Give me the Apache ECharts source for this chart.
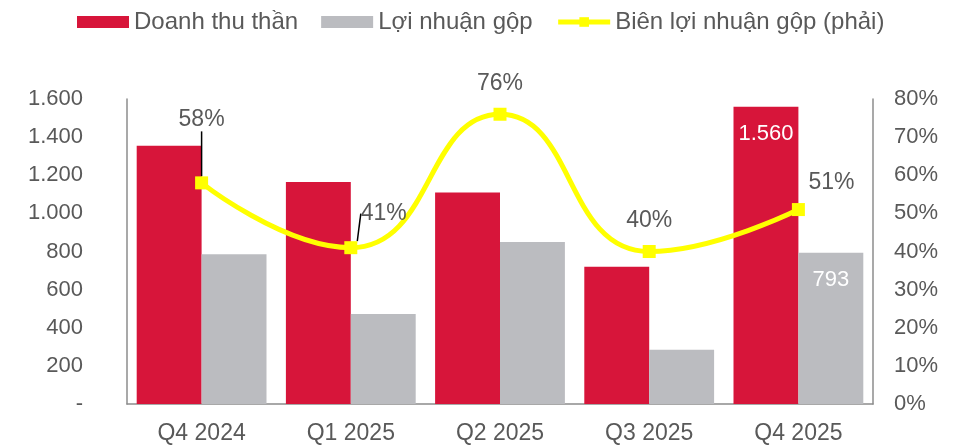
<!DOCTYPE html>
<html>
<head>
<meta charset="utf-8">
<script src="https://cdn.jsdelivr.net/npm/echarts@6/dist/echarts.min.js"></script>
<style>
  html, body { margin: 0; padding: 0; background: #fff; }
  #chart { width: 964px; height: 447px; }
</style>
</head>
<body>
<div id="chart"></div>
<script>
// data
let categories = ['Q4 2024', 'Q1 2025', 'Q2 2025', 'Q3 2025', 'Q4 2025'];
let revenue = [1355, 1165, 1110, 720, 1560];
let grossProfit = [785, 472, 850, 285, 793];
let grossMargin = [58, 41, 76, 40, 51];
let leftTicks = [0, 200, 400, 600, 800, 1000, 1200, 1400, 1600];
let rightTicks = [0, 10, 20, 30, 40, 50, 60, 70, 80];

let txt = '#595959';
let font = 'Liberation Sans, Arial, sans-serif';

let fmtNum = function(v){
    if (v === 0) return '-';
    return String(Math.round(v)).replace(/\B(?=(\d{3})+(?!\d))/g, '.');
};

// label shifts for the margin line (dx, dy from default top label)
let marginShift = [[0, -32], [33, 1], [0, 0], [0, 0], [33, 4]];

let myChart = echarts.init(document.getElementById('chart'));
let option = {
    animation: false,
    textStyle: {fontFamily: font},
    legend: {
        left: 72, top: 5,
        itemWidth: 52, itemHeight: 12, itemGap: 23,
        textStyle: {color: txt, fontSize: 24, fontFamily: font},
        data: [
            {name: 'Doanh thu thần', icon: 'rect'},
            {name: 'Lợi nhuận gộp', icon: 'rect'},
            {name: 'Biên lợi nhuận gộp (phải)', lineStyle: {width: 5}}
        ]
    },
    grid: {left: 127, right: 91, top: 99, bottom: 43},
    xAxis: {
        type: 'category',
        data: categories,
        axisLine: {lineStyle: {color: '#8c8c8c', width: 1.5}},
        axisTick: {show: false},
        axisLabel: {color: txt, fontSize: 23, margin: 18}
    },
    yAxis: [{
        type: 'value',
        min: leftTicks[0], max: leftTicks[leftTicks.length - 1], interval: 200,
        splitLine: {show: false},
        axisLine: {show: true, lineStyle: {color: '#8c8c8c', width: 1.5}},
        axisTick: {show: false},
        axisLabel: {color: txt, fontSize: 22, margin: 44, formatter: fmtNum}
    }, {
        type: 'value',
        min: rightTicks[0], max: rightTicks[rightTicks.length - 1], interval: 10,
        splitLine: {show: false},
        axisLine: {show: true, lineStyle: {color: '#8c8c8c', width: 1.5}},
        axisTick: {show: false},
        axisLabel: {color: txt, fontSize: 22, margin: 21, formatter: '{value}%'}
    }],
    series: [{
        name: 'Doanh thu thần',
        type: 'bar',
        barGap: 0,
        barCategoryGap: '13%',
        itemStyle: {color: '#D7153A'},
        data: revenue.map(function(v, i){
            if (i !== revenue.length - 1) return v;
            return {value: v, label: {show: true, position: 'insideTop', distance: 16,
                color: '#fff', fontSize: 22, formatter: function(p){ return fmtNum(p.value); }}};
        })
    }, {
        name: 'Lợi nhuận gộp',
        type: 'bar',
        itemStyle: {color: '#BBBCC0'},
        data: grossProfit.map(function(v, i){
            if (i !== grossProfit.length - 1) return v;
            return {value: v, label: {show: true, position: 'insideTop', distance: 16,
                color: '#fff', fontSize: 22, formatter: function(p){ return fmtNum(p.value); }}};
        })
    }, {
        name: 'Biên lợi nhuận gộp (phải)',
        type: 'line',
        yAxisIndex: 1,
        smooth: 0.5,
        symbol: 'rect',
        symbolSize: 13,
        lineStyle: {color: '#FFFF00', width: 5},
        itemStyle: {color: '#FFFF00'},
        label: {show: true, position: 'top', distance: 13, color: txt, fontSize: 23,
            formatter: '{c}%'},
        labelLine: {show: false},
        labelLayout: function(p){
            let s = marginShift[p.dataIndex];
            return {dx: s[0], dy: s[1]};
        },
        data: grossMargin.map(function(v, i){
            if (i === 0) return {value: v, labelLine: {show: true, minTurnAngle: 180,
                lineStyle: {color: '#000', width: 1.5}}};
            // extra padding so the guide leaves from under the text
            if (i === 1) return {value: v, label: {padding: [14, 0, 4, 0]},
                labelLine: {show: true, minTurnAngle: 180,
                lineStyle: {color: '#000', width: 1.5}}};
            return v;
        })
    }]
};
myChart.setOption(option);
</script>
</body>
</html>
